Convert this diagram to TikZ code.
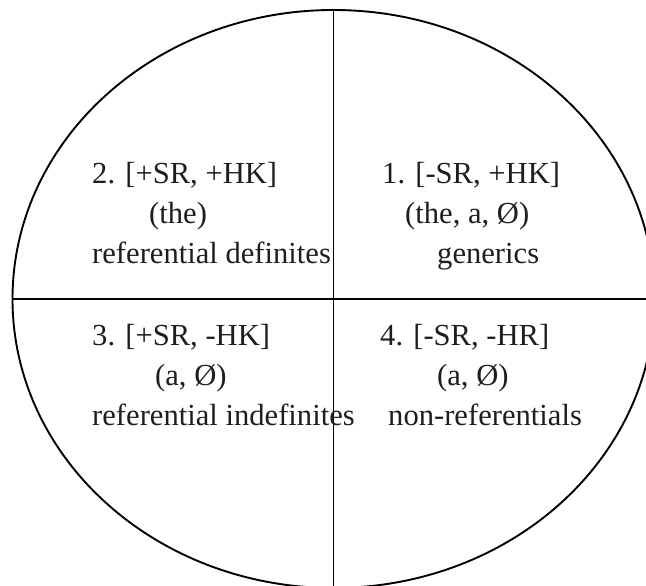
\documentclass[tikz,border=0pt]{standalone}
\usepackage{fontspec}
\setmainfont{Liberation Serif}
\usetikzlibrary{shapes.geometric}
\definecolor{ink}{HTML}{1E1E1E}
\begin{document}
\begin{tikzpicture}[x=1pt,y=-1pt,
  frame/.style={draw=black,line width=1.9pt},
  label/.style={anchor=base west,inner sep=0pt,text=ink,
    font=\fontsize{30.6}{40}\selectfont}]
\useasboundingbox (0,0) rectangle (646,586);
\clip (0,0) rectangle (646,586);
% the oval and its two dividing lines
\node[frame,ellipse,inner sep=0pt,minimum width=642pt,minimum height=578pt]
  (oval) at (333.5,299) {};
\draw[frame] (oval.north) -- (oval.south);
\draw[frame] (oval.west) -- (oval.east);
% quadrant 2 (top left)
\node[label] (q2a) at (92,183) {2. [+SR, +HK]};
\node[label] (q2b) at (149,223) {(the)};
\node[label] (q2c) at (92,263) {referential definites};
% quadrant 1 (top right)
\node[label] (q1a) at (382,183) {1. [-SR, +HK]};
\node[label] (q1b) at (405,223) {(the, a, Ø)};
\node[label] (q1c) at (437,263) {generics};
% quadrant 3 (bottom left)
\node[label] (q3a) at (92,345) {3. [+SR, -HK]};
\node[label] (q3b) at (155,385) {(a, Ø)};
\node[label] (q3c) at (92,425) {referential indefinites};
% quadrant 4 (bottom right)
\node[label] (q4a) at (380,345) {4. [-SR, -HR]};
\node[label] (q4b) at (437,385) {(a, Ø)};
\node[label] (q4c) at (388,425) {non-referentials};
\end{tikzpicture}
\end{document}
